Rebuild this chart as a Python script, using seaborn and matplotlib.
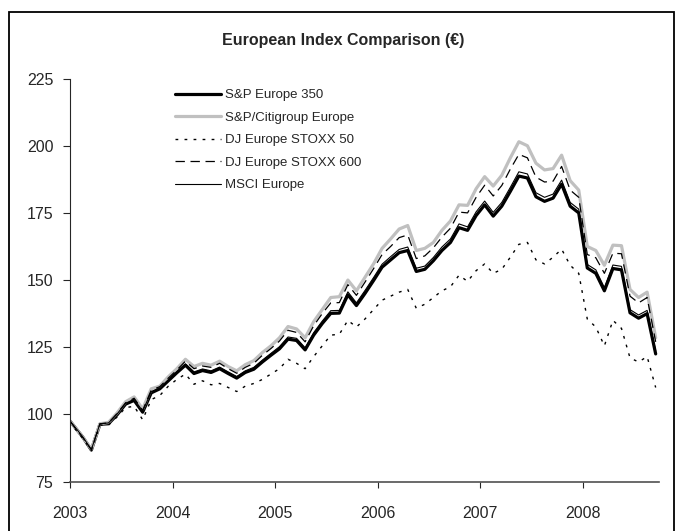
import matplotlib
matplotlib.use("Agg")
import matplotlib.pyplot as plt
from matplotlib.patches import Rectangle
import seaborn as sns
import numpy as np

# month positions: start of Jan 2003, then mid-month points Jan 2003 .. Sep 2008
month_pos = [0.0] + [m + 0.5 for m in range(69)]

sp350 = [97.5, 95.5, 91.5, 86.7, 96.3, 96.5, 99.8, 103.8, 105.2, 100.8,
         108.0, 109.5, 112.5, 115.5, 118.3, 115.2, 116.3, 115.6, 117.0, 115.2,
         113.5, 115.6, 116.8, 119.5, 122.0, 124.4, 128.0, 127.5, 124.0, 129.5,
         133.8, 137.6, 137.7, 144.5, 140.5, 145.0, 149.8, 154.8, 157.5, 160.2,
         161.0, 153.2, 154.0, 157.2, 161.0, 164.0, 169.5, 168.5, 174.0, 178.0,
         173.8, 177.5, 183.0, 188.7, 188.0, 181.0, 179.3, 180.5, 185.7, 177.5,
         175.0, 154.5, 152.5, 146.0, 154.3, 153.8, 137.8, 135.8, 137.5, 122.5]

citi = [97.5, 95.5, 91.5, 87.0, 96.5, 97.0, 100.5, 104.7, 106.5, 102.0,
        109.5, 110.5, 114.0, 117.0, 120.5, 117.8, 119.0, 118.3, 119.8, 117.8,
        116.2, 118.5, 120.0, 123.0, 125.5, 128.5, 132.7, 131.8, 128.5, 134.5,
        139.0, 143.5, 143.8, 150.0, 146.0, 151.0, 156.0, 161.8, 165.3, 169.0,
        170.3, 161.0, 161.8, 164.0, 168.5, 172.0, 178.0, 177.8, 184.0, 188.5,
        185.0, 189.0, 195.5, 201.5, 200.0, 193.5, 191.0, 191.5, 196.5, 187.0,
        183.5, 162.5, 161.0, 155.5, 163.0, 162.8, 146.5, 143.5, 145.5, 128.5]

stoxx50 = [97.5, 95.0, 91.0, 86.5, 96.0, 96.0, 99.0, 102.5, 103.0, 98.0,
           105.5, 107.0, 110.5, 113.0, 115.0, 111.2, 112.5, 111.0, 111.5, 110.0,
           108.5, 110.5, 111.5, 113.0, 115.0, 117.0, 120.5, 119.0, 117.0, 121.5,
           125.5, 129.5, 129.8, 135.0, 132.5, 135.5, 139.0, 142.5, 144.0, 145.5,
           146.5, 139.5, 141.0, 143.5, 146.0, 147.5, 151.8, 149.5, 153.5, 156.0,
           152.5, 154.0, 158.5, 163.3, 164.0, 157.5, 156.0, 158.5, 161.5, 155.5,
           152.5, 135.5, 132.5, 125.5, 135.0, 132.0, 121.0, 119.5, 121.5, 110.0]

stoxx600 = [97.5, 95.3, 91.3, 86.8, 96.5, 96.8, 100.3, 104.3, 106.0, 101.5,
            109.0, 110.3, 113.5, 116.5, 119.8, 117.0, 118.0, 117.5, 119.0, 117.0,
            115.3, 117.5, 119.0, 122.0, 124.5, 127.3, 131.3, 130.5, 127.0, 133.0,
            137.5, 141.5, 141.6, 148.3, 144.3, 149.2, 154.2, 159.5, 162.5, 165.8,
            166.8, 158.0, 159.0, 162.0, 166.0, 169.3, 175.3, 175.0, 180.8, 185.3,
            181.3, 185.2, 191.3, 196.8, 195.5, 188.3, 186.5, 186.8, 192.3, 183.5,
            180.8, 159.5, 158.3, 152.5, 160.0, 159.8, 144.0, 141.5, 143.5, 127.0]

msci = [97.5, 95.6, 91.6, 86.9, 96.5, 96.8, 100.1, 104.1, 105.6, 101.2,
        108.4, 109.9, 112.9, 116.0, 118.8, 115.8, 116.9, 116.2, 117.6, 115.8,
        114.1, 116.2, 117.5, 120.2, 122.7, 125.2, 128.8, 128.3, 124.8, 130.4,
        134.7, 138.6, 138.7, 145.6, 141.5, 146.1, 150.9, 155.9, 158.7, 161.4,
        162.3, 154.4, 155.2, 158.4, 162.3, 165.3, 170.9, 169.8, 175.4, 179.4,
        175.2, 178.9, 184.5, 190.3, 189.5, 182.5, 180.8, 182.0, 187.2, 178.9,
        176.4, 155.8, 153.8, 147.2, 155.6, 155.1, 139.0, 137.0, 138.7, 123.6]

series_names = ["S&P Europe 350", "S&P/Citigroup Europe", "DJ Europe STOXX 50",
                "DJ Europe STOXX 600", "MSCI Europe"]
year_ticks = [2003, 2004, 2005, 2006, 2007, 2008]
y_ticks = [75, 100, 125, 150, 175, 200, 225]

sns.set_style("ticks")
plt.rcParams["font.family"] = ["Liberation Sans Narrow", "Liberation Sans", "DejaVu Sans"]

x = 2003 + np.array(month_pos) / 12.0

W, H = 682, 531
fig = plt.figure(figsize=(W / 100, H / 100), dpi=100)
ax = fig.add_axes([70 / W, 1 - 481.5 / H, (659 - 70) / W, (481.5 - 78.6) / H])

styles = [
    (sp350, dict(color="black", linewidth=2.3, linestyle="-")),
    (citi, dict(color="#c0c0c0", linewidth=2.3, linestyle="-")),
    (stoxx50, dict(color="black", linewidth=1.0, linestyle=(0, (2, 4.5)))),
    (stoxx600, dict(color="black", linewidth=0.9, linestyle=(0, (7.5, 4.5)))),
    (msci, dict(color="black", linewidth=0.8, linestyle="-")),
]
for name, (vals, kw) in zip(series_names, styles):
    sns.lineplot(x=x, y=vals, ax=ax, label=name, errorbar=None, **kw)

ax.set_xlim(2003, 2003 + (659 - 70) / 102.6)
ax.set_ylim(75, 225)
ax.set_xticks(year_ticks)
ax.set_xticklabels([str(y) for y in year_ticks])
ax.set_yticks(y_ticks)
ax.set_xlabel("")
ax.set_ylabel("")

for s in ["top", "right"]:
    ax.spines[s].set_visible(False)
ax.spines["left"].set_linewidth(0.8)
ax.spines["bottom"].set_linewidth(1.2)
ax.spines["bottom"].set_color("#505050")
ax.tick_params(axis="y", direction="out", length=5, width=0.8, pad=7, labelsize=11.5)
ax.tick_params(axis="x", direction="out", length=4.5, width=0.8, pad=13.5, labelsize=11.5)

ax.set_title("European Index Comparison (€)", fontsize=11.5, fontweight="bold",
             x=(343 - 70) / (659 - 70), y=1.0, pad=(78.6 - 39) * 0.72 - 4.5)

ax.legend(loc="upper left", bbox_to_anchor=(175 / W, 1 - 89 / H),
          bbox_transform=fig.transFigure, frameon=False, fontsize=9.5,
          handlelength=3.5, handletextpad=0.3, labelspacing=0.78,
          borderpad=0, borderaxespad=0)

fig.patches.append(Rectangle((8.5 / W, -0.1), (674 - 8.5) / W, 1.1 - 12 / H,
                             transform=fig.transFigure, fill=False,
                             edgecolor="black", linewidth=1.3))

fig.savefig("out.png", dpi=100)
